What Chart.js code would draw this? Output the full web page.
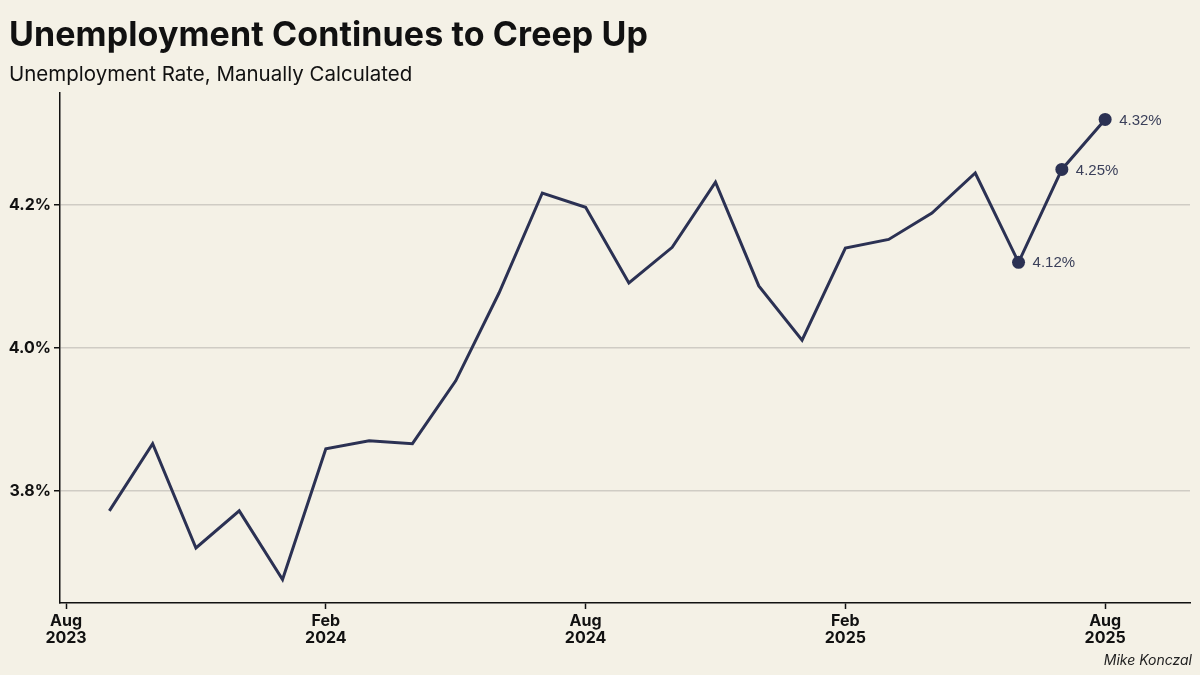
<!DOCTYPE html>
<html>
<head>
<meta charset="utf-8">
<script src="https://cdn.jsdelivr.net/npm/chart.js@4"></script>
<style>
  body { margin: 0; background: #f4f1e6; }
  #wrap { position: relative; width: 1200px; height: 675px; background: #f4f1e6; }
  #title { position: absolute; left: 9px; top: 13px; font: bold 34px "Inter", sans-serif; color: #111; letter-spacing: 0.1px; }
  #sub { position: absolute; left: 9px; top: 61px; font: 20.5px "Inter", sans-serif; color: #111; }
  #credit { position: absolute; right: 8px; top: 651px; font: italic 14px "Inter", sans-serif; color: #222; }
  canvas { position: absolute; left: 0; top: 0; }
</style>
</head>
<body>
<div id="wrap">
  <canvas id="c" width="1200" height="675"></canvas>
  <div id="title">Unemployment Continues to Creep Up</div>
  <div id="sub">Unemployment Rate, Manually Calculated</div>
  <div id="credit">Mike Konczal</div>
</div>
<script>
// months since Aug 2023 (Sep 2023 .. Aug 2025)
const months = [1, 2, 3, 4, 5, 6, 7, 8, 9, 10, 11, 12, 13, 14, 15, 16, 17, 18, 19, 20, 21, 22, 23, 24];
const rate = [3.772, 3.866, 3.720, 3.772, 3.676, 3.859, 3.870, 3.866, 3.954, 4.077, 4.217, 4.197,
              4.091, 4.141, 4.232, 4.087, 4.011, 4.140, 4.152, 4.189, 4.245, 4.12, 4.25, 4.32];
const xTicks = [0, 6, 12, 18, 24];
const xTickLabels = [['Aug', '2023'], ['Feb', '2024'], ['Aug', '2024'], ['Feb', '2025'], ['Aug', '2025']];
const yTicks = [3.8, 4.0, 4.2];
const labelled = [21, 22, 23];

const lineColor = '#2b3153';

const pointLabels = {
  id: 'pointLabels',
  afterDatasetsDraw(chart) {
    const ctx = chart.ctx;
    const meta = chart.getDatasetMeta(0);
    ctx.save();
    ctx.font = '15px "Liberation Sans", Arial, sans-serif';
    ctx.fillStyle = '#3b405a';
    ctx.textBaseline = 'middle';
    labelled.forEach(i => {
      const p = meta.data[i];
      ctx.fillText(rate[i].toFixed(2) + '%', p.x + 14, p.y + 1);
    });
    ctx.restore();
  }
};

new Chart(document.getElementById('c'), {
  type: 'line',
  data: {
    datasets: [{
      data: months.map((m, i) => ({ x: m, y: rate[i] })),
      borderColor: lineColor,
      backgroundColor: lineColor,
      borderWidth: 3,
      tension: 0,
      pointRadius: rate.map((v, i) => labelled.includes(i) ? 6.5 : 0),
      pointBorderWidth: 0
    }]
  },
  options: {
    responsive: false,
    animation: false,
    layout: { padding: { top: 93, right: 10, left: 0, bottom: 0 } },
    plugins: { legend: { display: false }, tooltip: { enabled: false } },
    scales: {
      x: {
        type: 'linear',
        min: -0.14,
        max: 25.96,
        afterBuildTicks: s => { s.ticks = xTicks.map(v => ({ value: v })); },
        afterFit: s => { s.height = 72; },
        grid: { drawOnChartArea: false, tickColor: '#111', tickLength: 6, tickWidth: 1.5 },
        border: { color: '#111', width: 1.5 },
        ticks: {
          color: '#111',
          padding: 4,
          maxRotation: 0,
          font: { family: 'Inter', weight: 'bold', size: 16, lineHeight: 1.05 },
          callback: v => xTickLabels[xTicks.indexOf(v)]
        }
      },
      y: {
        min: 3.643,
        max: 4.357,
        afterBuildTicks: s => { s.ticks = yTicks.map(v => ({ value: v })); },
        afterFit: s => { s.width = 60; },
        grid: { color: '#cfccc4', lineWidth: 1.5, tickColor: '#111', tickLength: 6, tickWidth: 1.5 },
        border: { color: '#111', width: 1.5 },
        ticks: {
          color: '#111',
          padding: 3,
          font: { family: 'Inter', weight: 'bold', size: 16 },
          callback: v => v.toFixed(1) + '%'
        }
      }
    }
  },
  plugins: [pointLabels]
});
</script>
</body>
</html>
